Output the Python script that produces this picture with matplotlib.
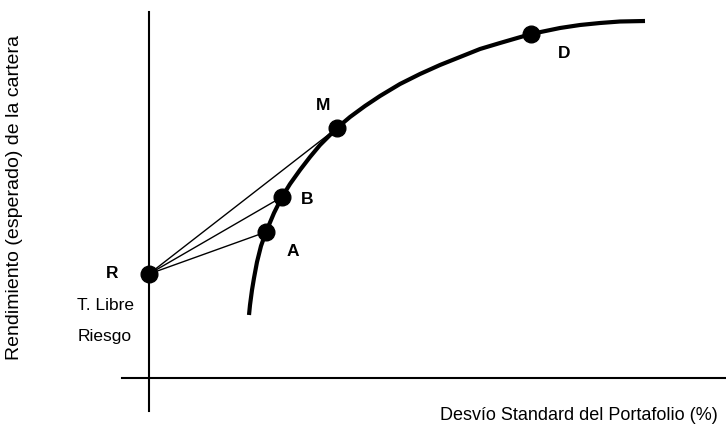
import matplotlib.pyplot as plt

plt.rcParams['font.family'] = ['Liberation Sans', 'DejaVu Sans']

# coordinates (x = riesgo, y = rendimiento, screen units, y grows downward)
frontier_x = [249, 250, 252, 254, 257, 261, 266, 274, 282, 290, 300, 310, 320, 337,
              350, 365, 380, 400, 420, 440, 460, 480, 500, 531, 560, 580, 600, 620, 645]
frontier_y = [315, 305, 290, 278, 262, 246, 232, 213, 197, 184, 170, 157, 145, 128,
              117, 106, 96, 84, 74, 65, 57, 49, 43, 34, 28, 25, 23, 21.5, 21]

point_names = ['R', 'A', 'B', 'M', 'D']
point_x = [149, 266, 282, 337, 531]
point_y = [274, 232, 197, 128, 34]

fig = plt.figure(figsize=(7.26, 4.30), dpi=100)
ax = fig.add_axes([0, 0, 1, 1])
ax.set_xlim(0, 726)
ax.set_ylim(430, 0)
ax.axis('off')

# axes
ax.plot([149, 149], [12, 411], color='black', lw=1.5)
ax.plot([122, 726], [378, 378], color='black', lw=1.5)

# efficient frontier
ax.plot(frontier_x, frontier_y, color='black', lw=3, solid_capstyle='butt', solid_joinstyle='round')

# lines from the risk free rate to A, B, M
for name in ['A', 'B', 'M']:
    i = point_names.index(name)
    ax.plot([point_x[0], point_x[i]], [point_y[0], point_y[i]], color='black', lw=1)

ax.plot(point_x, point_y, 'o', color='black', markersize=12, zorder=5)

label_pos = {'R': (112, 274), 'A': (293, 251), 'B': (307, 200), 'M': (323, 105), 'D': (564, 53)}
for name in point_names:
    lx, ly = label_pos[name]
    ax.text(lx, ly, name, ha='center', va='center', fontsize=12.5, fontweight='bold')

ax.text(134, 306, 'T. Libre', ha='right', va='center', fontsize=12.5)
ax.text(132, 337, 'Riesgo', ha='right', va='center', fontsize=12.5)

ax.text(579, 416, 'Desvío Standard del Portafolio (%)', ha='center', va='center', fontsize=13)
ax.text(15, 198, 'Rendimiento (esperado) de la cartera', ha='center', va='center',
        rotation=90, fontsize=14)

fig.savefig('out.png', dpi=100)
